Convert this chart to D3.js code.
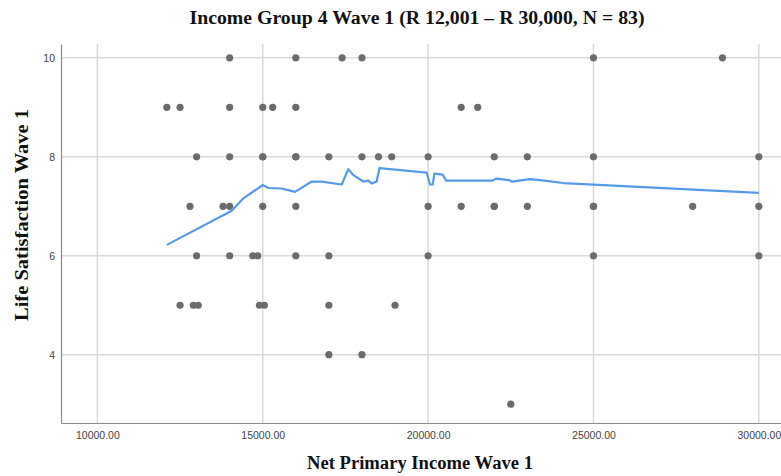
<!DOCTYPE html>
<html>
<head>
<meta charset="utf-8">
<script src="https://cdn.jsdelivr.net/npm/d3@7"></script>
<style>
  html, body { margin: 0; padding: 0; background: #fff; }
  svg { display: block; }
</style>
</head>
<body>
<svg id="chart" width="781" height="476"></svg>
<script>
// Respondents: net primary income (x) and life satisfaction score (y)
const incomeValues = [
  14000, 16000, 17400, 18000, 25000, 28900,
  12100, 12500, 14000, 15000, 15300, 16000, 21000, 21500,
  13000, 14000, 15000, 15000, 16000, 16000, 17000, 18000, 18500, 18900, 20000, 22000, 23000, 25000, 30000,
  12800, 13800, 14000, 15000, 16000, 20000, 21000, 22000, 22000, 23000, 25000, 25000, 28000, 30000,
  13000, 14000, 14700, 14850, 16000, 17000, 20000, 25000, 30000,
  12500, 12900, 13050, 14900, 15050, 17000, 19000,
  17000, 18000,
  22500
];
const satisfactionValues = [
  10, 10, 10, 10, 10, 10,
  9, 9, 9, 9, 9, 9, 9, 9,
  8, 8, 8, 8, 8, 8, 8, 8, 8, 8, 8, 8, 8, 8, 8,
  7, 7, 7, 7, 7, 7, 7, 7, 7, 7, 7, 7, 7, 7,
  6, 6, 6, 6, 6, 6, 6, 6, 6,
  5, 5, 5, 5, 5, 5, 5,
  4, 4,
  3
];

// Smoothed fit line (loess) through the cloud
const fitIncome = [12100, 14063, 14414, 15000, 15170, 15573, 15977, 16481, 16783, 17388, 17588, 17740,
  18042, 18193, 18294, 18446, 18526, 19957, 20057, 20139, 20189, 20441, 20541, 21952, 22052, 22455,
  22527, 23080, 23383, 24087, 30000];
const fitSatisfaction = [6.22, 6.91, 7.16, 7.43, 7.37, 7.36, 7.29, 7.50, 7.50, 7.44, 7.75, 7.63,
  7.50, 7.52, 7.46, 7.50, 7.77, 7.68, 7.44, 7.44, 7.66, 7.64, 7.52, 7.52, 7.56, 7.53,
  7.50, 7.55, 7.53, 7.47, 7.27];

const xTicks = [10000, 15000, 20000, 25000, 30000];
const yTicks = [4, 6, 8, 10];

const titleText = "Income Group 4 Wave 1 (R 12,001 \u2013 R 30,000, N = 83)";
const xTitle = "Net Primary Income Wave 1";
const yTitle = "Life Satisfaction Wave 1";

const plot = { left: 61, right: 781, top: 44, bottom: 423 };

const svg = d3.select("#chart");

const x = d3.scaleLinear().domain([8900, 30670]).range([plot.left, plot.right]);
const y = d3.scaleLinear().domain([2.62, 10.28]).range([plot.bottom, plot.top]);

// Grid lines
const grid = svg.append("g");
grid.selectAll("line.gx").data(xTicks).join("line")
  .attr("x1", d => x(d)).attr("x2", d => x(d))
  .attr("y1", plot.top).attr("y2", plot.bottom)
  .attr("stroke", "#d9d9d9").attr("stroke-width", 1.5);
grid.selectAll("line.gy").data(yTicks).join("line")
  .attr("x1", plot.left).attr("x2", plot.right)
  .attr("y1", d => y(d)).attr("y2", d => y(d))
  .attr("stroke", "#d9d9d9").attr("stroke-width", 1.5);

// Axes
const xAxis = d3.axisBottom(x).tickValues(xTicks).tickSize(0).tickPadding(9)
  .tickFormat(d3.format(".2f"));
const yAxis = d3.axisLeft(y).tickValues(yTicks).tickSize(0).tickPadding(6)
  .tickFormat(d3.format("d"));

const gx = svg.append("g").attr("transform", `translate(0,${plot.bottom})`).call(xAxis);
const gy = svg.append("g").attr("transform", `translate(${plot.left},0)`).call(yAxis);
[gx, gy].forEach(g => {
  g.select(".domain").attr("stroke", "#8a8a8a").attr("stroke-width", 1.2);
  g.selectAll("text").attr("fill", "#444").attr("font-family", "Liberation Sans, Arial, sans-serif")
    .attr("font-size", 10.5);
});

// Points
svg.append("g").selectAll("circle")
  .data(incomeValues.map((v, i) => [v, satisfactionValues[i]]))
  .join("circle")
  .attr("cx", d => x(d[0])).attr("cy", d => y(d[1]))
  .attr("r", 3.6).attr("fill", "#6b6b6b");

// Fit line
const line = d3.line().x(d => x(d[0])).y(d => y(d[1]));
svg.append("path")
  .datum(fitIncome.map((v, i) => [v, fitSatisfaction[i]]))
  .attr("d", line)
  .attr("fill", "none").attr("stroke", "#559ae8").attr("stroke-width", 2.2)
  .attr("stroke-linejoin", "round");

// Titles
function boldSerif(sel, len) {
  return sel.attr("text-anchor", "middle")
    .attr("font-family", "Liberation Serif, Times New Roman, serif").attr("font-weight", "bold")
    .attr("font-size", 18.5).attr("fill", "#111")
    .attr("textLength", len).attr("lengthAdjust", "spacingAndGlyphs");
}

boldSerif(svg.append("text").attr("x", 417).attr("y", 24), 455).text(titleText);
boldSerif(svg.append("text").attr("x", 420).attr("y", 469), 226).text(xTitle);
boldSerif(svg.append("text").attr("transform", "translate(28,215) rotate(-90)"), 212).text(yTitle);
</script>
</body>
</html>
